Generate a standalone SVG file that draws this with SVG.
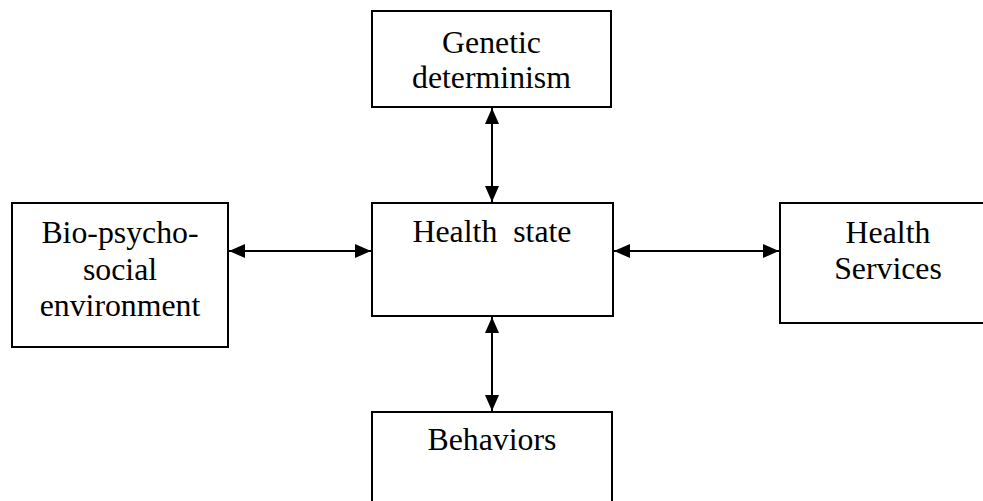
<svg xmlns="http://www.w3.org/2000/svg" width="983" height="501" viewBox="0 0 983 501">
<style>
.box{fill:#fff;stroke:#000;stroke-width:2}
.t{font-family:"Liberation Serif","Times New Roman",serif;font-size:31.8px;fill:#000;text-anchor:middle}
.c{stroke:#000;stroke-width:2;fill:none;marker-start:url(#ah);marker-end:url(#ah)}
</style>
<defs>
<marker id="ah" viewBox="0 0 16 14" refX="16" refY="7" markerWidth="16" markerHeight="14" markerUnits="userSpaceOnUse" orient="auto-start-reverse">
<path d="M0,0 L16,7 L0,14 Z" fill="#000"/>
</marker>
</defs>
<rect width="983" height="501" fill="#fff"/>
<g id="genetic">
<rect class="box" x="372" y="11" width="239" height="96"/>
<text class="t" x="491.5" y="53">Genetic</text>
<text class="t" x="491.5" y="88">determinism</text>
</g>
<g id="health-state">
<rect class="box" x="372" y="203" width="241" height="113"/>
<text class="t" x="492" y="242" xml:space="preserve">Health  state</text>
</g>
<g id="bio">
<rect class="box" x="12" y="203" width="216" height="144"/>
<text class="t" x="120" y="243">Bio-psycho-</text>
<text class="t" x="120" y="280">social</text>
<text class="t" x="120" y="316">environment</text>
</g>
<g id="services">
<rect class="box" x="780" y="203" width="210" height="120"/>
<text class="t" x="888" y="243">Health</text>
<text class="t" x="888" y="279">Services</text>
</g>
<g id="behaviors">
<rect class="box" x="372" y="412" width="240" height="100"/>
<text class="t" x="492" y="450">Behaviors</text>
</g>
<g id="connectors">
<line class="c" x1="492" y1="108" x2="492" y2="202"/>
<line class="c" x1="229" y1="251" x2="371" y2="251"/>
<line class="c" x1="614" y1="251" x2="779" y2="251"/>
<line class="c" x1="492" y1="317" x2="492" y2="411"/>
</g>
</svg>
